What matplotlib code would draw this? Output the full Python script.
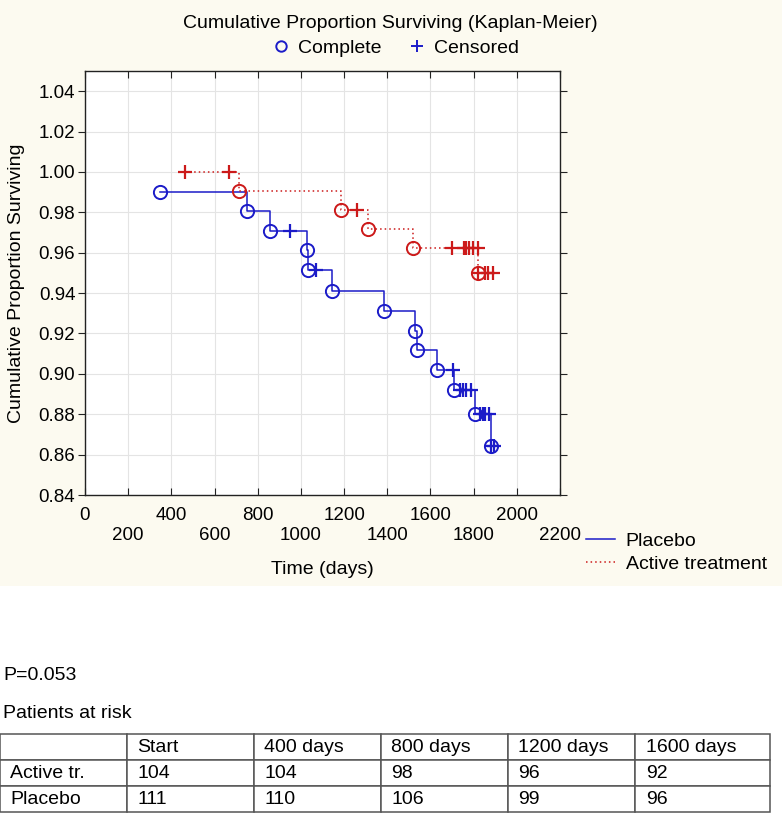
import matplotlib
matplotlib.use("Agg")
import matplotlib.pyplot as plt
from matplotlib.lines import Line2D
from matplotlib.patches import Rectangle

plt.rcParams['font.family'] = ['Liberation Sans', 'DejaVu Sans']

# Kaplan-Meier points (event: 1 = complete, 0 = censored)
placebo_t = [346, 749, 858, 949, 1029, 1035, 1072, 1143, 1384, 1527, 1538, 1631,
             1705, 1708, 1735, 1750, 1765, 1788, 1805, 1831, 1843, 1854, 1870,
             1881, 1881, 1892]
placebo_s = [0.9903, 0.9807, 0.9709, 0.9709, 0.9612, 0.9512, 0.9512, 0.9412,
             0.9312, 0.9213, 0.9120, 0.9020, 0.9020, 0.8918, 0.8918, 0.8918,
             0.8918, 0.8918, 0.8800, 0.8800, 0.8800, 0.8800, 0.8800, 0.8643,
             0.8643, 0.8643]
placebo_e = [1, 1, 1, 0, 1, 1, 0, 1, 1, 1, 1, 1, 0, 1, 0, 0, 0, 0, 1, 0, 0, 0, 0,
             1, 0, 0]

active_t = [461, 665, 711, 1185, 1261, 1312, 1520, 1700, 1754, 1766, 1777, 1797,
            1818, 1820, 1820, 1851, 1868, 1890]
active_s = [1.0, 1.0, 0.9906, 0.9810, 0.9810, 0.9719, 0.9621, 0.9621, 0.9621,
            0.9621, 0.9621, 0.9621, 0.9621, 0.9501, 0.9501, 0.9501, 0.9501, 0.9501]
active_e = [0, 0, 1, 1, 0, 1, 1, 0, 0, 0, 0, 0, 0, 1, 0, 0, 0, 0]

# patients at risk table
risk_cols = ['Start', '400 days', '800 days', '1200 days', '1600 days']
risk_active = [104, 104, 98, 96, 92]
risk_placebo = [111, 110, 106, 99, 96]

BLUE = '#1b1bc8'
RED = '#cc1a1a'
BEIGE = '#fcfaf0'
FS = 14
TFS = 13.5
W, H = 782, 814

fig = plt.figure(figsize=(W / 100, H / 100), dpi=100)
fig.patches.append(Rectangle((0, 1 - 586 / H), 1, 586 / H, transform=fig.transFigure,
                             facecolor=BEIGE, edgecolor='none', zorder=-1))

ax = fig.add_axes([85 / W, 1 - 495 / H, 475 / W, 424 / H])
ax.set_facecolor('white')


def km(t, s, e, color, ls):
    ax.step(t, s, where='post', color=color, lw=1.1, ls=ls, zorder=2)
    tc = [a for a, k in zip(t, e) if k == 1]
    sc = [b for b, k in zip(s, e) if k == 1]
    tp = [a for a, k in zip(t, e) if k == 0]
    sp = [b for b, k in zip(s, e) if k == 0]
    ax.plot(tc, sc, ls='none', marker='o', mfc='none', mec=color, ms=9.5, mew=1.4, zorder=3)
    ax.plot(tp, sp, ls='none', marker='+', color=color, ms=9.5, mew=1.6, zorder=3)


km(placebo_t, placebo_s, placebo_e, BLUE, '-')
km(active_t, active_s, active_e, RED, (0, (1, 2)))

ax.set_xlim(0, 2200)
ax.set_ylim(0.84, 1.05)
xt = list(range(0, 2201, 200))
ax.set_xticks(xt)
ax.set_xticklabels([str(v) if (v // 200) % 2 == 0 else '\n' + str(v) for v in xt],
                   linespacing=1.25)
yt = [0.84 + 0.02 * i for i in range(11)]
ax.set_yticks(yt)
ax.set_yticklabels(['%.2f' % v for v in yt])
ax.tick_params(axis='x', direction='in', top=True, bottom=True, length=5, pad=8.5,
               labelsize=TFS, color='#222')
ax.tick_params(axis='y', direction='out', left=True, right=True, length=5, pad=2,
               labelsize=TFS, color='#222')
ax.grid(True, color='#e4e4e4', lw=0.8)
ax.set_axisbelow(True)
for sp in ax.spines.values():
    sp.set_color('#222')
    sp.set_linewidth(1.0)

ax.set_xlabel('Time (days)', fontsize=FS, va='center')
ax.xaxis.set_label_coords(0.5, (495 - 569) / 424)
ax.set_ylabel('Cumulative Proportion Surviving', fontsize=FS, va='center')
ax.yaxis.set_label_coords((17 - 85) / 475, 0.5)

fig.text(0.499, 1 - 23 / H, 'Cumulative Proportion Surviving (Kaplan-Meier)',
         ha='center', va='center', fontsize=FS)

top_handles = [
    Line2D([], [], ls='none', marker='o', mfc='none', mec=BLUE, ms=7.5, mew=1.4),
    Line2D([], [], ls='none', marker='+', color=BLUE, ms=8.5, mew=1.4),
]
fig.legend(top_handles, ['Complete', 'Censored'], ncol=2, loc='center',
           bbox_to_anchor=(0.505, 1 - 48 / H), frameon=False, fontsize=FS,
           handlelength=1.0, handletextpad=0.4, columnspacing=1.3)

line_handles = [
    Line2D([], [], color=BLUE, lw=1.1),
    Line2D([], [], color=RED, lw=1.1, ls=(0, (1, 2))),
]
fig.legend(line_handles, ['Placebo', 'Active treatment'], loc='upper left',
           bbox_to_anchor=(586 / W, 1 - 532 / H), frameon=False, fontsize=FS,
           borderpad=0, borderaxespad=0, handlelength=1.5, handletextpad=0.55,
           labelspacing=0.3)

fig.text(3 / W, 1 - 676 / H, 'P=0.053', va='center', fontsize=FS)
fig.text(3 / W, 1 - 713 / H, 'Patients at risk', va='center', fontsize=FS)

tax = fig.add_axes([0, 1 - 812 / H, 770 / W, 78 / H])
tax.axis('off')
cells = [[''] + risk_cols,
         ['Active tr.'] + [str(v) for v in risk_active],
         ['Placebo'] + [str(v) for v in risk_placebo]]
widths = [127, 127, 127, 127, 127, 135]
tbl = tax.table(cellText=cells, cellLoc='left', bbox=[0, 0, 1, 1],
                colWidths=[w / sum(widths) for w in widths])
tbl.auto_set_font_size(False)
tbl.set_fontsize(FS)
for cell in tbl.get_celld().values():
    cell.set_edgecolor('#555555')
    cell.set_linewidth(1.1)
    cell.PAD = 0.08

fig.savefig('out.png', dpi=100)
